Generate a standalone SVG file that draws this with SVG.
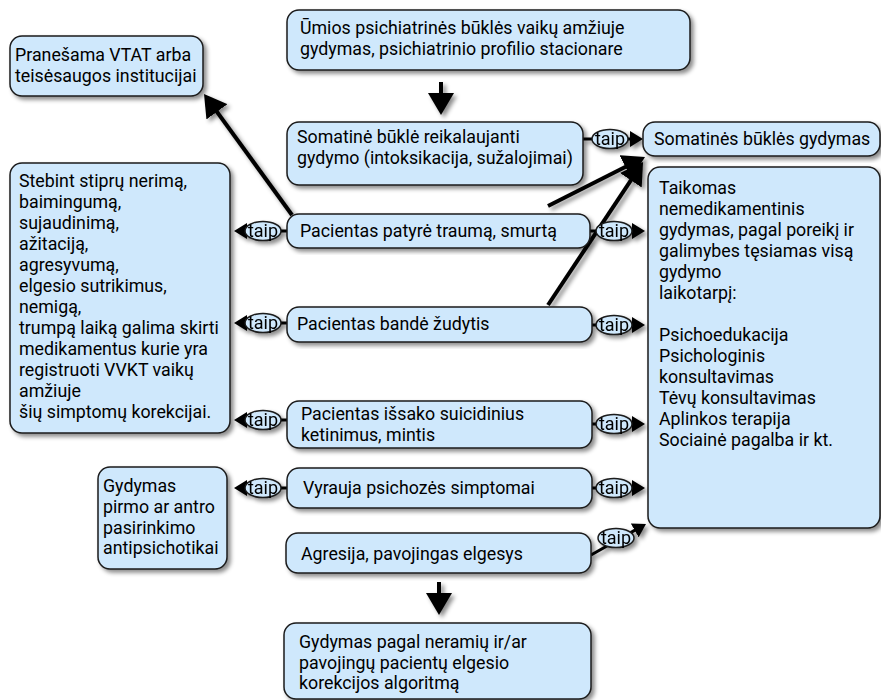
<svg xmlns="http://www.w3.org/2000/svg" width="881" height="700" viewBox="0 0 881 700">
<defs>
<filter id="sh" x="-20%" y="-20%" width="140%" height="140%">
<feDropShadow dx="3" dy="3" stdDeviation="2" flood-color="#000" flood-opacity="0.45"/>
</filter>
<marker id="big" markerUnits="userSpaceOnUse" viewBox="0 0 22 26" markerWidth="22" markerHeight="26" refX="12" refY="13" orient="auto">
<path d="M0,0 L22,13 L0,26 z" fill="#000"/>
</marker>
<marker id="sm" markerUnits="userSpaceOnUse" viewBox="0 0 13 16" markerWidth="13" markerHeight="16" refX="6" refY="8" orient="auto">
<path d="M0,0 L13,8 L0,16 z" fill="#000"/>
</marker>
<style>
.box{fill:#cfe8fc;stroke:#1a1a1a;stroke-width:1.5;filter:url(#sh)}
.t{font-family:Roboto,"Liberation Sans",sans-serif;font-size:17.8px;fill:#000}
.lb{font-family:Roboto,"Liberation Sans",sans-serif;font-size:18px;fill:#000;text-anchor:middle}
.bigl{stroke:#000;stroke-width:4;fill:none;marker-end:url(#big)}
.sml{stroke:#000;stroke-width:3;fill:none;marker-end:url(#sm)}
.el{fill:#cfe8fc;stroke:#1a1a1a;stroke-width:1.5}
</style>
</defs>
<g id="connectors" filter="url(#sh)">
<line class="bigl" x1="441" y1="82" x2="441" y2="105"/>
<line class="bigl" x1="439" y1="582" x2="439" y2="605"/>
<line class="bigl" x1="292" y1="215" x2="209.9" y2="102.1"/>
<line class="bigl" x1="548" y1="206" x2="636.1" y2="161.5"/>
<line class="bigl" x1="548" y1="305" x2="637.5" y2="170.3"/>
<line class="sml" x1="583" y1="139" x2="636" y2="139"/>
<line class="sml" x1="287" y1="231" x2="241" y2="231"/>
<line class="sml" x1="287" y1="323" x2="241" y2="323"/>
<line class="sml" x1="287" y1="420" x2="241" y2="420"/>
<line class="sml" x1="287" y1="488" x2="241" y2="488"/>
<line class="sml" x1="590" y1="231" x2="638" y2="231"/>
<line class="sml" x1="592" y1="325" x2="638" y2="325"/>
<line class="sml" x1="592" y1="424" x2="638" y2="424"/>
<line class="sml" x1="592" y1="488" x2="638" y2="488"/>
<line class="sml" x1="591" y1="555" x2="639.9" y2="527.4"/>
<ellipse class="el" cx="610" cy="139" rx="18" ry="9.5"/><text class="lb" x="610" y="145">taip</text>
<ellipse class="el" cx="263" cy="231" rx="18" ry="9.5"/><text class="lb" x="263" y="237">taip</text>
<ellipse class="el" cx="263" cy="323" rx="18" ry="9.5"/><text class="lb" x="263" y="329">taip</text>
<ellipse class="el" cx="263" cy="420" rx="18" ry="9.5"/><text class="lb" x="263" y="426">taip</text>
<ellipse class="el" cx="263" cy="488" rx="18" ry="9.5"/><text class="lb" x="263" y="494">taip</text>
<ellipse class="el" cx="614" cy="231" rx="18" ry="9.5"/><text class="lb" x="614" y="237">taip</text>
<ellipse class="el" cx="614" cy="325" rx="18" ry="9.5"/><text class="lb" x="614" y="331">taip</text>
<ellipse class="el" cx="614" cy="424" rx="18" ry="9.5"/><text class="lb" x="614" y="430">taip</text>
<ellipse class="el" cx="614" cy="488" rx="18" ry="9.5"/><text class="lb" x="614" y="494">taip</text>
<ellipse class="el" cx="616" cy="538" rx="18" ry="9.5"/><text class="lb" x="616" y="544">taip</text>
</g>
<g id="n-umios"><rect class="box" x="287" y="10" width="403" height="60" rx="12"/>
<text class="t" x="300" y="34">Ūmios psichiatrinės būklės vaikų amžiuje</text>
<text class="t" x="300" y="55">gydymas, psichiatrinio profilio stacionare</text></g>
<g id="n-vtat"><rect class="box" x="10" y="36" width="193" height="60" rx="12"/>
<text class="t" x="15" y="61">Pranešama VTAT arba</text>
<text class="t" x="15" y="82">teisėsaugos institucijai</text></g>
<g id="n-somatine"><rect class="box" x="287" y="122" width="296" height="63" rx="12"/>
<text class="t" x="297" y="143">Somatinė būklė reikalaujanti</text>
<text class="t" x="297" y="164">gydymo (intoksikacija, sužalojimai)</text></g>
<g id="n-somgyd"><rect class="box" x="643" y="122" width="237" height="34" rx="12"/>
<text class="t" x="654" y="145">Somatinės būklės gydymas</text></g>
<g id="n-taikomas"><rect class="box" x="648" y="167" width="232" height="361" rx="12"/>
<text class="t" x="659" y="194">Taikomas</text>
<text class="t" x="659" y="215">nemedikamentinis</text>
<text class="t" x="659" y="236">gydymas, pagal poreikį ir</text>
<text class="t" x="659" y="257">galimybes tęsiamas visą</text>
<text class="t" x="659" y="278">gydymo</text>
<text class="t" x="659" y="299">laikotarpį:</text>
<text class="t" x="659" y="341">Psichoedukacija</text>
<text class="t" x="659" y="362">Psichologinis</text>
<text class="t" x="659" y="383">konsultavimas</text>
<text class="t" x="659" y="404">Tėvų konsultavimas</text>
<text class="t" x="659" y="425">Aplinkos terapija</text>
<text class="t" x="659" y="446">Sociainė pagalba ir kt.</text></g>
<g id="n-trauma"><rect class="box" x="287" y="214" width="303" height="34" rx="12"/>
<text class="t" x="300" y="237">Pacientas patyrė traumą, smurtą</text></g>
<g id="n-stebint"><rect class="box" x="10" y="163" width="220" height="270" rx="12"/>
<text class="t" x="19" y="187">Stebint stiprų nerimą,</text>
<text class="t" x="19" y="208">baimingumą,</text>
<text class="t" x="19" y="229">sujaudinimą,</text>
<text class="t" x="19" y="250">ažitaciją,</text>
<text class="t" x="19" y="271">agresyvumą,</text>
<text class="t" x="19" y="292">elgesio sutrikimus,</text>
<text class="t" x="19" y="313">nemigą,</text>
<text class="t" x="19" y="334">trumpą laiką galima skirti</text>
<text class="t" x="19" y="355">medikamentus kurie yra</text>
<text class="t" x="19" y="376">registruoti VVKT vaikų</text>
<text class="t" x="19" y="397">amžiuje</text>
<text class="t" x="19" y="418">šių simptomų korekcijai.</text></g>
<g id="n-bande"><rect class="box" x="287" y="307" width="305" height="35" rx="12"/>
<text class="t" x="297" y="330">Pacientas bandė žudytis</text></g>
<g id="n-issako"><rect class="box" x="287" y="401" width="305" height="47" rx="12"/>
<text class="t" x="301" y="420">Pacientas išsako suicidinius</text>
<text class="t" x="301" y="441">ketinimus, mintis</text></g>
<g id="n-vyrauja"><rect class="box" x="287" y="468" width="305" height="40" rx="12"/>
<text class="t" x="303" y="494">Vyrauja psichozės simptomai</text></g>
<g id="n-pirmo"><rect class="box" x="98" y="467" width="129" height="102" rx="12"/>
<text class="t" x="103" y="492">Gydymas</text>
<text class="t" x="103" y="513">pirmo ar antro</text>
<text class="t" x="103" y="534">pasirinkimo</text>
<text class="t" x="103" y="554">antipsichotikai</text></g>
<g id="n-agresija"><rect class="box" x="286" y="533" width="305" height="40" rx="12"/>
<text class="t" x="301" y="560">Agresija, pavojingas elgesys</text></g>
<g id="n-gydymas"><rect class="box" x="284" y="623" width="307" height="76" rx="12"/>
<text class="t" x="299" y="648">Gydymas pagal neramių ir/ar</text>
<text class="t" x="299" y="669">pavojingų pacientų elgesio</text>
<text class="t" x="299" y="689">korekcijos algoritmą</text></g>
</svg>
